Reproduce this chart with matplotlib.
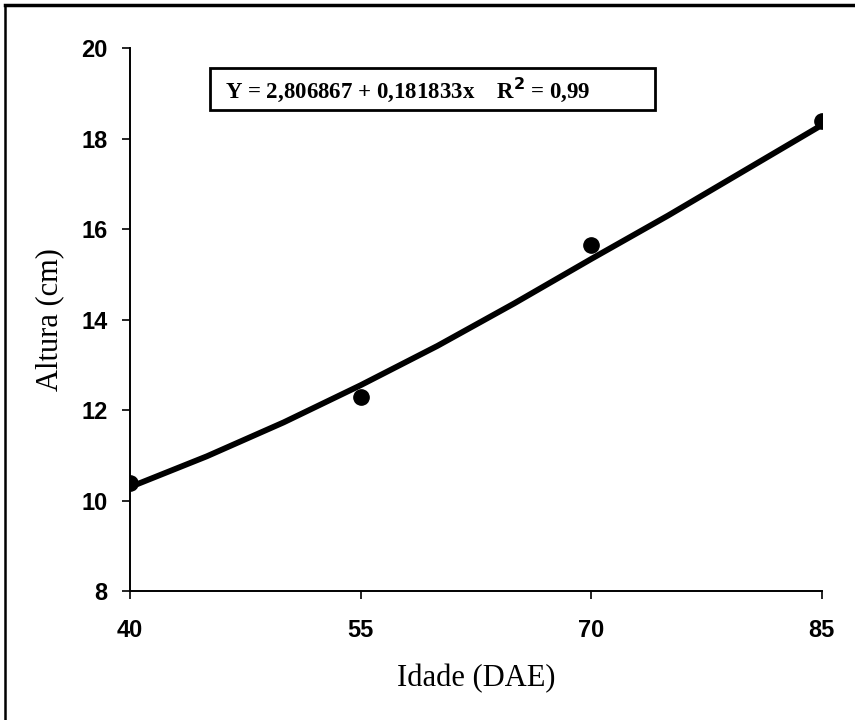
import matplotlib
matplotlib.use("Agg")
import matplotlib.pyplot as plt
from matplotlib.patches import Rectangle
from matplotlib.lines import Line2D

# observed means
idade = [40, 55, 70, 85]
altura = [10.4, 12.3, 15.65, 18.4]

# fitted curve
curva_x = [40, 45, 50, 55, 60, 65, 70, 75, 80, 85]
curva_y = [10.3, 10.98, 11.73, 12.55, 13.42, 14.36, 15.34, 16.3, 17.3, 18.3]

x_ticks = [40, 55, 70, 85]
y_ticks = [8, 10, 12, 14, 16, 18, 20]

equacao = "Y = 2,806867 + 0,181833x    R$^\\mathbf{2}$ = 0,99"

fig = plt.figure(figsize=(8.55, 7.2), dpi=100)
ax = fig.add_axes([0.152, 0.179, 0.809, 0.754])

ax.plot(curva_x, curva_y, color="black", linewidth=4.2, solid_capstyle="round", zorder=2)
ax.plot(idade, altura, "o", color="black", markersize=11, zorder=3)

ax.set_xlim(40, 85)
ax.set_ylim(8, 20)
ax.set_xticks(x_ticks)
ax.set_yticks(y_ticks)
for lab in ax.get_xticklabels() + ax.get_yticklabels():
    lab.set_fontfamily("Liberation Sans")
    lab.set_fontweight("bold")
    lab.set_fontsize(17)
ax.tick_params(direction="out", length=6, width=1.2, colors="black")
ax.tick_params(axis="y", pad=10)
ax.tick_params(axis="x", pad=14)
ax.spines["top"].set_visible(False)
ax.spines["right"].set_visible(False)
ax.spines["left"].set_linewidth(1.4)
ax.spines["bottom"].set_linewidth(1.4)

ax.set_xlabel("Idade (DAE)", fontfamily="Liberation Serif", fontsize=22, labelpad=16)
ax.set_ylabel("Altura (cm)", fontfamily="Liberation Serif", fontsize=22, labelpad=12)

# equation box
ax.add_patch(Rectangle((0.116, 0.886), 0.643, 0.077, transform=ax.transAxes,
                       fill=True, facecolor="white", edgecolor="black", linewidth=2, zorder=4))
ax.text(0.137, 0.924, equacao, transform=ax.transAxes, fontfamily="Liberation Serif",
        fontweight="bold", fontsize=16.5, va="center", ha="left", zorder=5)

# scanned page frame: top and left edges only
fig.add_artist(Line2D([0.006, 1.0], [0.993, 0.993], transform=fig.transFigure,
                      color="black", linewidth=2.5))
fig.add_artist(Line2D([0.006, 0.006], [0.0, 0.993], transform=fig.transFigure,
                      color="black", linewidth=1.8))

fig.savefig("out.png", dpi=100)
